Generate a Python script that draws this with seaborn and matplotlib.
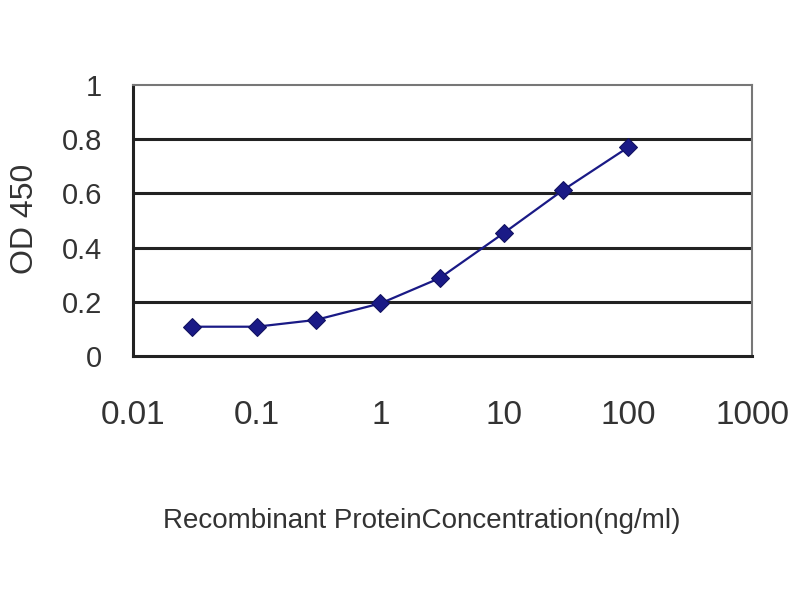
import matplotlib
matplotlib.use('Agg')
import matplotlib.pyplot as plt
import seaborn as sns
import numpy as np
import pandas as pd

sns.set_theme(style='white')
plt.rcParams['font.family'] = ['Liberation Sans', 'DejaVu Sans']

# ELISA standard curve
concentration = [0.03, 0.1, 0.3, 1, 3, 10, 30, 100]
od450 = [0.108, 0.108, 0.133, 0.194, 0.287, 0.455, 0.613, 0.770]
x_ticks = [0.01, 0.1, 1, 10, 100, 1000]
x_tick_labels = ['0.01', '0.1', '1', '10', '100', '1000']
y_ticks = [0, 0.2, 0.4, 0.6, 0.8, 1]
y_tick_labels = ['0', '0.2', '0.4', '0.6', '0.8', '1']

df = pd.DataFrame({'conc': concentration, 'od': od450})

fig = plt.figure(figsize=(8, 6), dpi=100)
ax = fig.add_axes([0.166, 0.4067, 0.774, 0.4517])

# horizontal grid lines behind the curve
for y in y_ticks[1:-1]:
    ax.axhline(y, color='#222222', lw=2.2, zorder=1)

sns.lineplot(data=df, x='conc', y='od', ax=ax, color='#1a1a86', lw=1.6,
             marker='D', markersize=9, markeredgecolor='#10105e', zorder=3)

ax.set_xscale('log')
ax.set_xlim(0.01, 1000)
ax.set_ylim(0, 1)
ax.set_xticks(x_ticks)
ax.set_xticklabels(x_tick_labels)
ax.set_yticks(y_ticks)
ax.set_yticklabels(y_tick_labels)
ax.minorticks_off()

ax.tick_params(axis='x', direction='in', length=5, width=1.2, color='#222222',
               pad=32, labelsize=24, labelcolor='#333333')
ax.tick_params(axis='y', length=0, pad=22, labelsize=21, labelcolor='#333333')

for side in ['left', 'bottom']:
    ax.spines[side].set_color('#222222')
    ax.spines[side].set_linewidth(2.2)
for side in ['top', 'right']:
    ax.spines[side].set_color('#777777')
    ax.spines[side].set_linewidth(1.5)

ax.set_xlabel('Recombinant ProteinConcentration(ng/ml)', fontsize=20,
              color='#333333', va='center')
ax.xaxis.set_label_coords(0.466, -0.609)
ax.set_ylabel('OD 450', fontsize=23, color='#333333', va='center')
ax.yaxis.set_label_coords(-0.1745, 0.507)

fig.savefig('out.png', dpi=100)
